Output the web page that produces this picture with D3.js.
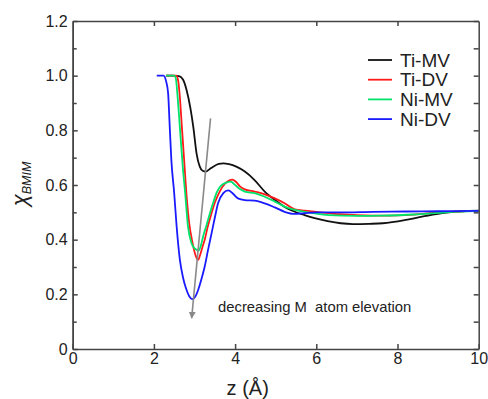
<!DOCTYPE html>
<html>
<head>
<meta charset="utf-8">
<script src="https://cdn.jsdelivr.net/npm/d3@7"></script>
<style>
  body { margin: 0; background: #fff; }
  svg { display: block; font-family: "Liberation Sans", Arial, sans-serif; }
  .axis path, .axis line { stroke: #444; stroke-width: 1.5; }
  .axis text { fill: #222; font-size: 16px; }
</style>
</head>
<body>
<svg id="chart" width="488" height="399"></svg>
<script>
// curves, [z (Å), chi]
const tiMV = [[2.3,1.0],[2.45,1.0],[2.62,0.998],[2.72,0.985],[2.8,0.95],[2.9,0.88],[2.97,0.813],[3.05,0.716],[3.13,0.667],[3.2,0.652],[3.28,0.649],[3.37,0.658],[3.46,0.667],[3.6,0.677],[3.71,0.679],[3.85,0.676],[4.03,0.667],[4.24,0.649],[4.48,0.618],[4.73,0.576],[4.98,0.545],[5.22,0.52],[5.47,0.502],[5.71,0.49],[5.96,0.479],[6.28,0.468],[6.6,0.46],[6.9,0.457],[7.3,0.458],[7.64,0.46],[8.2,0.472],[8.7,0.487],[9.2,0.499],[9.6,0.504],[10,0.506]];
const tiDV = [[2.3,1.0],[2.55,1.0],[2.6,0.98],[2.64,0.92],[2.69,0.81],[2.75,0.68],[2.8,0.57],[2.87,0.46],[2.95,0.39],[3.01,0.35],[3.06,0.33],[3.09,0.326],[3.14,0.345],[3.2,0.375],[3.25,0.399],[3.33,0.45],[3.42,0.497],[3.5,0.535],[3.62,0.576],[3.75,0.605],[3.85,0.616],[3.93,0.62],[4.02,0.612],[4.12,0.595],[4.24,0.584],[4.48,0.576],[4.73,0.566],[4.98,0.551],[5.22,0.533],[5.47,0.511],[5.71,0.506],[6.0,0.502],[6.58,0.493],[7.4,0.488],[8.2,0.49],[9.04,0.5],[10,0.505]];
const niMV = [[2.3,1.0],[2.5,1.0],[2.54,0.99],[2.58,0.93],[2.64,0.81],[2.72,0.65],[2.77,0.57],[2.84,0.448],[2.92,0.39],[2.97,0.374],[3.04,0.364],[3.1,0.36],[3.16,0.38],[3.21,0.411],[3.3,0.455],[3.38,0.497],[3.46,0.535],[3.54,0.57],[3.62,0.592],[3.71,0.604],[3.8,0.61],[3.89,0.612],[4.0,0.6],[4.12,0.585],[4.24,0.576],[4.48,0.57],[4.73,0.557],[4.98,0.539],[5.22,0.521],[5.47,0.509],[5.71,0.502],[5.96,0.496],[6.3,0.49],[7.0,0.487],[7.6,0.488],[8.4,0.492],[9.2,0.5],[10,0.505]];
const niDV = [[2.07,1.0],[2.24,1.0],[2.3,0.98],[2.35,0.936],[2.39,0.813],[2.43,0.691],[2.5,0.57],[2.56,0.448],[2.64,0.326],[2.72,0.26],[2.79,0.222],[2.87,0.193],[2.95,0.182],[3.02,0.192],[3.09,0.216],[3.17,0.255],[3.25,0.301],[3.33,0.36],[3.42,0.423],[3.5,0.48],[3.58,0.533],[3.71,0.57],[3.83,0.58],[3.95,0.568],[4.07,0.551],[4.24,0.545],[4.48,0.543],[4.73,0.533],[4.98,0.518],[5.22,0.502],[5.47,0.494],[5.71,0.497],[6,0.5],[6.6,0.5],[7.4,0.502],[8.2,0.503],[9.0,0.504],[10,0.505]];

const seriesNames = ['Ti-MV', 'Ti-DV', 'Ni-MV', 'Ni-DV'];
const seriesColors = ['#111111', '#ff1a1a', '#00e36b', '#1a1aff'];
const xTicks = [0, 2, 4, 6, 8, 10];
const yTicks = [0, 0.2, 0.4, 0.6, 0.8, 1.0, 1.2];
const yTickLabels = ['0', '0.2', '0.4', '0.6', '0.8', '1.0', '1.2'];
const yMinor = [0.1, 0.3, 0.5, 0.7, 0.9, 1.1];
const arrowFrom = [3.395, 0.844];
const arrowTo = [2.93, 0.113];
const noteAt = [3.58, 0.137];
const noteText = 'decreasing M\u00a0 atom elevation';

const svg = d3.select('#chart');
const margin = { top: 21, right: 9.3, bottom: 50, left: 72.7 };
const width = 488 - margin.left - margin.right;
const height = 399 - margin.top - margin.bottom;
const g = svg.append('g').attr('transform', `translate(${margin.left},${margin.top})`);

const x = d3.scaleLinear().domain([0, 10]).range([0, width]);
const y = d3.scaleLinear().domain([0, 1.2]).range([height, 0]);

// curves
const line = d3.line().x(d => x(d[0])).y(d => y(d[1])).curve(d3.curveMonotoneX);
const all = [tiMV, tiDV, niMV, niDV];
all.forEach((s, i) => {
  g.append('path').datum(s)
    .attr('fill', 'none')
    .attr('stroke', seriesColors[i])
    .attr('stroke-width', 1.8)
    .attr('d', line);
});

// arrow
svg.append('defs').append('marker')
  .attr('id', 'ah').attr('viewBox', '0 0 10 10')
  .attr('refX', 9).attr('refY', 5)
  .attr('markerWidth', 7).attr('markerHeight', 7)
  .attr('markerUnits', 'userSpaceOnUse')
  .attr('orient', 'auto')
  .append('path').attr('d', 'M0,0L10,5L0,10z').attr('fill', '#888');
g.append('line')
  .attr('x1', x(arrowFrom[0])).attr('y1', y(arrowFrom[1]))
  .attr('x2', x(arrowTo[0])).attr('y2', y(arrowTo[1]))
  .attr('stroke', '#8a8a8a').attr('stroke-width', 1.6)
  .attr('marker-end', 'url(#ah)');
g.append('text')
  .attr('x', x(noteAt[0])).attr('y', y(noteAt[1]))
  .attr('font-size', 14.8).attr('fill', '#222')
  .text(noteText);

// axes, ticks inside
g.append('g').attr('class', 'axis')
  .attr('transform', `translate(0,${height})`)
  .call(d3.axisBottom(x).tickValues(xTicks).tickSize(-5).tickSizeOuter(0).tickPadding(4).tickFormat(d3.format('d')));
g.append('g').attr('class', 'axis')
  .call(d3.axisTop(x).tickValues([2, 4, 6, 8]).tickSize(-5).tickSizeOuter(0).tickFormat(''));
g.append('g').attr('class', 'axis')
  .call(d3.axisLeft(y).tickValues(yTicks).tickSize(-5).tickSizeOuter(0).tickPadding(5)
    .tickFormat((d, i) => yTickLabels[i]));
g.append('g').attr('class', 'axis')
  .call(d3.axisLeft(y).tickValues(yMinor).tickSize(-4).tickSizeOuter(0).tickFormat(''));
g.append('g').attr('class', 'axis')
  .attr('transform', `translate(${width},0)`)
  .call(d3.axisRight(y).tickValues(yTicks.concat(yMinor)).tickSize(-5).tickSizeOuter(0).tickFormat(''));

// axis titles
svg.append('text')
  .attr('x', margin.left + x(5) - 28).attr('y', 395)
  .attr('text-anchor', 'middle').attr('font-size', 20).attr('fill', '#222')
  .text('z (Å)');
const yt = svg.append('text')
  .attr('transform', 'translate(27,184) rotate(-90)')
  .attr('text-anchor', 'middle').attr('font-size', 22).attr('fill', '#222')
  .attr('font-style', 'italic');
yt.append('tspan').text('χ');
yt.append('tspan').attr('font-size', 12.5).attr('dy', 4).text('BMIM');

// legend
const leg = svg.append('g').attr('transform', 'translate(368,60)');
seriesNames.forEach((n, i) => {
  const row = leg.append('g').attr('transform', `translate(0,${i * 19.7})`);
  row.append('line').attr('x1', 0).attr('x2', 24)
    .attr('stroke', seriesColors[i]).attr('stroke-width', 1.8);
  row.append('text').attr('x', 32).attr('dy', '0.35em')
    .attr('font-size', 19).attr('fill', '#222').text(n);
});
</script>
</body>
</html>
